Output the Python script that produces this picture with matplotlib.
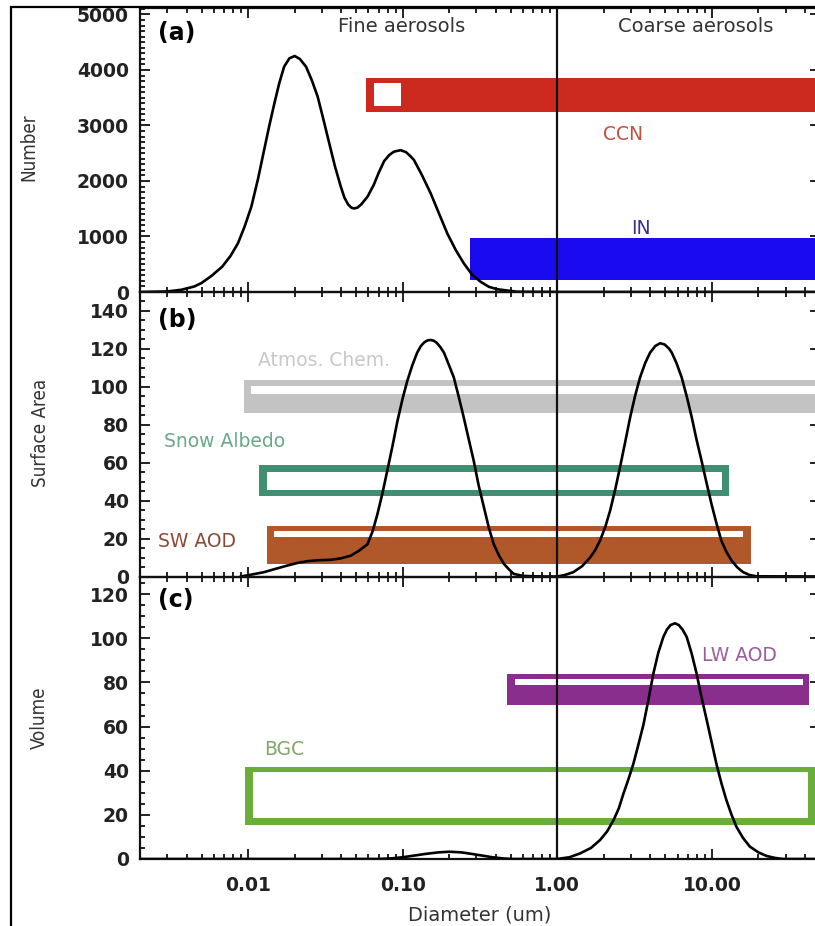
import matplotlib
matplotlib.use('Agg')
import matplotlib.pyplot as plt
from matplotlib.patches import Rectangle
from matplotlib.ticker import MultipleLocator, FixedLocator, FixedFormatter, LogLocator, NullFormatter

# ---------------- data ----------------
# (a) number size distribution
num_diam = [0.002, 0.003, 0.0037, 0.0045, 0.0050, 0.0058, 0.0068, 0.0077, 0.0086, 0.0095,
            0.0105, 0.0116, 0.0127, 0.0137, 0.0148, 0.0159, 0.0171, 0.0185, 0.0200, 0.0216,
            0.0237, 0.0258, 0.0282, 0.0307, 0.0335, 0.0365, 0.0398, 0.0420, 0.0443, 0.0465,
            0.0485, 0.0510, 0.0540, 0.0592, 0.0650, 0.0700, 0.0759, 0.0820, 0.0880, 0.0971,
            0.1050, 0.1120, 0.1183, 0.1330, 0.1517, 0.1720, 0.1941, 0.2200, 0.2483, 0.2800,
            0.3184, 0.3600, 0.4074, 0.55, 1.0, 50.0]
num_vals = [0, 10, 40, 100, 162, 290, 456, 650, 877, 1180,
            1537, 2040, 2559, 2990, 3400, 3760, 4059, 4210, 4252, 4200,
            4060, 3820, 3519, 3110, 2679, 2260, 1897, 1700, 1580, 1520,
            1505, 1520, 1580, 1717, 1930, 2150, 2360, 2470, 2530, 2555,
            2520, 2450, 2378, 2110, 1778, 1410, 1058, 760, 517, 320,
            186, 95, 50, 5, 0, 0]

# (b) surface area distribution
sfc_diam = [0.009, 0.0105, 0.0127, 0.015, 0.018, 0.021, 0.0243, 0.029, 0.0343, 0.040,
            0.0462, 0.052, 0.0592, 0.0640, 0.0687, 0.0740, 0.0796, 0.0860, 0.0925, 0.100,
            0.107, 0.115, 0.124, 0.131, 0.138, 0.145, 0.152, 0.159, 0.166, 0.175,
            0.185, 0.198, 0.214, 0.230, 0.248, 0.268, 0.288, 0.310, 0.335, 0.360,
            0.388, 0.420, 0.451, 0.49, 0.522, 0.6, 0.8, 1.0, 1.12, 1.27,
            1.45, 1.63, 1.76, 1.89, 2.04, 2.20, 2.37, 2.55, 2.75, 2.96,
            3.18, 3.43, 3.70, 3.98, 4.30, 4.62, 4.95, 5.30, 5.50, 5.90,
            6.37, 6.87, 7.40, 7.96, 8.57, 9.25, 9.95, 10.7, 11.5, 12.4,
            13.4, 14.6, 15.9, 17.5, 19.4, 50.0]
sfc_vals = [0, 1, 2.3, 4, 5.8, 7.2, 8.1, 8.6, 8.8, 9.6,
            11, 13.5, 17, 24, 33, 44, 56, 69, 82, 94,
            103, 111, 118, 121.5, 123.5, 124.5, 124.7, 124.3, 123.2, 121,
            118, 112, 105, 95, 84, 72, 61, 48, 36.6, 26,
            17, 11, 6.7, 3.5, 1.4, 0.3, 0, 0, 0.8, 2.3,
            5.5, 10, 14, 19, 26, 35, 46, 58, 71, 84,
            95, 105, 112.5, 118, 121.5, 123, 122.3, 120, 118, 112.5,
            105, 95, 84, 72, 61, 49, 38, 28, 19, 13,
            8.4, 4.8, 2.3, 0.8, 0.1, 0]

# (c) volume distribution
vol_diam = [0.002, 0.07, 0.085, 0.1, 0.12, 0.14, 0.17, 0.2, 0.24, 0.28,
            0.33, 0.38, 0.44, 0.5, 1.0, 1.2, 1.41, 1.65, 1.89, 2.1,
            2.31, 2.5, 2.68, 2.88, 3.10, 3.35, 3.61, 3.88, 4.18, 4.50,
            4.85, 5.12, 5.4, 5.77, 6.1, 6.45, 6.87, 7.40, 7.96, 8.55,
            9.25, 9.95, 10.7, 11.5, 12.4, 13.4, 14.4, 15.9, 17.6, 20.0,
            22.5, 25.5, 28.8, 50.0]
vol_vals = [0, 0, 0.3, 0.8, 1.6, 2.3, 3.0, 3.3, 3.0, 2.3,
            1.5, 0.8, 0.3, 0, 0, 0.8, 2.6, 5, 8.6, 12.5,
            17.6, 23, 29.7, 36, 43, 52, 61, 72, 84, 93.5,
            100.6, 104, 106, 106.8, 106, 104, 100.6, 93, 84, 73.5,
            63, 53, 43, 34.5, 26.7, 20, 14.6, 9.5, 5.6, 3,
            1.4, 0.5, 0, 0]

# applicability bands: diameter range and value range (outer), plus inner gap
ccn_x, ccn_y = [0.058, 50], [3250, 3850]
ccn_gap_x, ccn_gap_y = [0.065, 0.097], [3360, 3760]
in_x, in_y = [0.272, 50], [216, 967]

atm_x, atm_y = [0.0094, 50], [86, 103.4]
atm_gap_x, atm_gap_y = [0.0105, 50], [96, 100.3]
snow_x, snow_y = [0.0118, 12.9], [42.7, 58.6]
snow_gap_x, snow_gap_y = [0.0133, 11.7], [45.7, 55.0]
sw_x, sw_y = [0.0133, 18.0], [6.8, 26.4]
sw_gap_x, sw_gap_y = [0.0147, 15.9], [20.7, 23.9]

lw_x, lw_y = [0.474, 42.5], [69.7, 84.0]
lw_gap_x, lw_gap_y = [0.536, 38.8], [78.7, 81.4]
bgc_x, bgc_y = [0.0096, 47], [15.4, 41.5]
bgc_gap_x, bgc_gap_y = [0.0107, 41.7], [18.4, 39.2]

xtick_vals = [0.01, 0.1, 1.0, 10.0]
xtick_labels = ['0.01', '0.10', '1.00', '10.00']

# ---------------- figure ----------------
W, H = 815, 926
fig = plt.figure(figsize=(W / 100, H / 100), dpi=100)

left = 140 / W
width = 680 / W

def ax_rect(top_px, bot_px):
    return [left, (H - bot_px) / H, width, (bot_px - top_px) / H]

ax_a = fig.add_axes(ax_rect(8, 292))
ax_b = fig.add_axes(ax_rect(292, 576.5))
ax_c = fig.add_axes(ax_rect(576.5, 859))

TXTFAM = 'DejaVu Sans'

def band(ax, xr, yr, color, z=2):
    ax.fill_between(xr, yr[0], yr[1], color=color, lw=0, zorder=z)

for ax, ylim, major, minor in [(ax_a, (0, 5117), 1000, 100),
                               (ax_b, (0, 150), 20, 5),
                               (ax_c, (0, 128), 20, 5)]:
    ax.set_xscale('log')
    ax.set_xlim(0.002, 50)
    ax.set_ylim(*ylim)
    ax.yaxis.set_major_locator(MultipleLocator(major))
    ax.yaxis.set_minor_locator(MultipleLocator(minor))
    ax.xaxis.set_major_locator(FixedLocator(xtick_vals))
    ax.xaxis.set_minor_locator(LogLocator(base=10, subs=[2, 3, 4, 5, 6, 7, 8, 9], numticks=20))
    ax.xaxis.set_minor_formatter(NullFormatter())
    ax.tick_params(which='both', direction='in', top=True, right=True, width=1.3, colors='#111111')
    ax.tick_params(which='major', length=7, pad=8)
    ax.tick_params(which='minor', length=3.5)
    for s in ax.spines.values():
        s.set_linewidth(1.6)
        s.set_color('#111111')
    ax.axvline(1.0, color='#111111', lw=1.6, zorder=5)
    if ax is not ax_c:
        ax.xaxis.set_major_formatter(NullFormatter())
    ax.patch.set_alpha(0)
    ax.yaxis.set_tick_params(labelsize=13.5)
    for lab in ax.get_yticklabels():
        lab.set_fontweight('bold'); lab.set_family('DejaVu Sans'); lab.set_color('#222222')

ax_c.xaxis.set_major_formatter(FixedFormatter(xtick_labels))
ax_c.tick_params(axis='x', which='major', pad=12, labelsize=13.5)
for lab in ax_c.get_xticklabels():
    lab.set_fontweight('bold'); lab.set_family('DejaVu Sans'); lab.set_color('#222222')

# ---- panel (a)
band(ax_a, ccn_x, ccn_y, '#cc2a1e')
band(ax_a, ccn_gap_x, ccn_gap_y, 'white', z=3)
band(ax_a, in_x, in_y, '#1a0af0')
ax_a.plot(num_diam, num_vals, color='black', lw=1.9, zorder=6, solid_joinstyle='round')
ax_a.text(0.026, 0.912, '(a)', transform=ax_a.transAxes, fontsize=17, fontweight='bold',
          family=TXTFAM, va='center', ha='left')
ax_a.text(0.0986, 4775, 'Fine aerosols', fontsize=14, family=TXTFAM, ha='center', va='center', color='#333333')
ax_a.text(7.9, 4775, 'Coarse aerosols', fontsize=14, family=TXTFAM, ha='center', va='center', color='#333333')
ax_a.text(2.67, 2829, 'CCN', fontsize=13.5, family=TXTFAM, ha='center', va='center', color='#b8543f')
ax_a.text(3.48, 1144, 'IN', fontsize=13.5, family=TXTFAM, ha='center', va='center', color='#3a3090')

# ---- panel (b)
band(ax_b, atm_x, atm_y, '#c3c3c3')
band(ax_b, atm_gap_x, atm_gap_y, 'white', z=3)
band(ax_b, snow_x, snow_y, '#3f8f72')
band(ax_b, snow_gap_x, snow_gap_y, 'white', z=3)
band(ax_b, sw_x, sw_y, '#b0582a')
band(ax_b, sw_gap_x, sw_gap_y, 'white', z=3)
ax_b.plot(sfc_diam, sfc_vals, color='black', lw=1.9, zorder=6, solid_joinstyle='round')
ax_b.text(0.026, 0.90, '(b)', transform=ax_b.transAxes, fontsize=17, fontweight='bold',
          family=TXTFAM, va='center', ha='left')
ax_b.text(0.0116, 114, 'Atmos. Chem.', fontsize=13.5, family=TXTFAM, ha='left', va='center', color='#c8c8c8')
ax_b.text(0.00287, 71, 'Snow Albedo', fontsize=13.5, family=TXTFAM, ha='left', va='center', color='#6aa88a')
ax_b.text(0.00263, 18.2, 'SW AOD', fontsize=13.5, family=TXTFAM, ha='left', va='center', color='#8a4a35')

# ---- panel (c)
band(ax_c, lw_x, lw_y, '#8a2e8e')
band(ax_c, lw_gap_x, lw_gap_y, 'white', z=3)
band(ax_c, bgc_x, bgc_y, '#6aae3a')
band(ax_c, bgc_gap_x, bgc_gap_y, 'white', z=3)
ax_c.plot(vol_diam, vol_vals, color='black', lw=1.9, zorder=6, solid_joinstyle='round')
ax_c.text(0.026, 0.917, '(c)', transform=ax_c.transAxes, fontsize=17, fontweight='bold',
          family=TXTFAM, va='center', ha='left')
ax_c.text(8.6, 92.2, 'LW AOD', fontsize=13.5, family=TXTFAM, ha='left', va='center', color='#9a5c9c')
ax_c.text(0.0127, 49.4, 'BGC', fontsize=13.5, family=TXTFAM, ha='left', va='center', color='#82a86a')
ax_c.set_xlabel('Diameter (um)', fontsize=14, family=TXTFAM, color='#333333', labelpad=8)

# y labels (condensed look)
YLFAM = ['DejaVu Sans']
for (xc, yc, s) in [(29, 147, 'Number'), (41, 433, 'Surface Area'), (39, 718, 'Volume')]:
    fig.text(xc / W, 1 - yc / H, s, rotation=90, fontsize=13.5, family=YLFAM,
             fontstretch='condensed', ha='center', va='center', color='#333333')

# figure border (left and top visible)
fig.add_artist(Rectangle((11 / W, -0.05), 1.2, (H - 7) / H + 0.05, transform=fig.transFigure,
                         fill=False, lw=1.6, edgecolor='black', clip_on=False))

fig.savefig('out.png', dpi=100)
